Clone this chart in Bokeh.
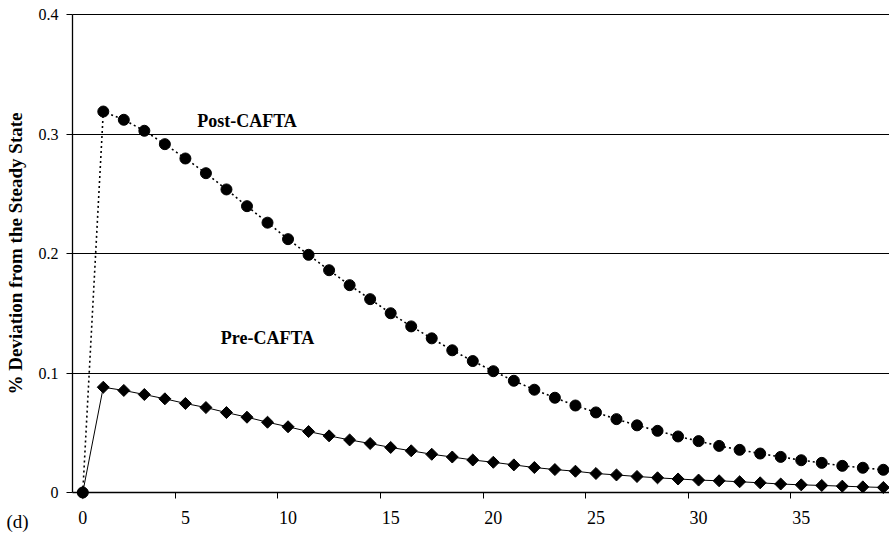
from bokeh.plotting import figure
from bokeh.models import FixedTicker, Label, Range1d, Grid
from bokeh.embed import file_html
from bokeh.resources import INLINE
import math

periods = list(range(40))
post_cafta = [0.0, 0.3188, 0.3119, 0.3027, 0.2915, 0.2795, 0.2672, 0.2536, 0.2396, 0.2258,
              0.2120, 0.1989, 0.1860, 0.1735, 0.1618, 0.1500, 0.1390, 0.1290, 0.1190, 0.1100,
              0.1015, 0.0935, 0.0860, 0.0793, 0.0728, 0.0670, 0.0614, 0.0562, 0.0516, 0.0469,
              0.0430, 0.0390, 0.0357, 0.0326, 0.0298, 0.0270, 0.0248, 0.0223, 0.0207, 0.0190]
pre_cafta = [0.0, 0.0881, 0.0854, 0.0820, 0.0784, 0.0745, 0.0711, 0.0669, 0.0630, 0.0588,
             0.0550, 0.0510, 0.0474, 0.0440, 0.0410, 0.0377, 0.0349, 0.0320, 0.0297, 0.0272,
             0.0253, 0.0231, 0.0209, 0.0192, 0.0178, 0.0159, 0.0147, 0.0134, 0.0123, 0.0113,
             0.0104, 0.0098, 0.0090, 0.0081, 0.0071, 0.0064, 0.0059, 0.0053, 0.0047, 0.0042]
x_tick_labels = [0, 5, 10, 15, 20, 25, 30, 35]
y_ticks = [0, 0.1, 0.2, 0.3, 0.4]
y_tick_labels = {0: "0", 0.1: "0.1", 0.2: "0.2", 0.3: "0.3", 0.4: "0.4"}
series_labels = ["Post-CAFTA", "Pre-CAFTA"]
panel_label = "(d)"

SERIF = "Liberation Serif"

# plot-area geometry (pixels) inside the 889x534 canvas
W, H = 889, 534
LEFT, TOP, BOTTOM = 72, 14, 492
X_LO, X_HI = -0.5, 39.3          # category axis span
Y_LO, Y_HI = 0.0, 0.4

x_ppu = (W - LEFT) / (X_HI - X_LO)
y_ppu = (BOTTOM - TOP) / (Y_HI - Y_LO)
x_range = Range1d(X_LO - LEFT / x_ppu, X_HI)
y_range = Range1d(Y_LO - (H - BOTTOM) / y_ppu, Y_HI + TOP / y_ppu)

p = figure(width=W, height=H, output_backend="svg", toolbar_location=None,
           x_range=x_range, y_range=y_range,
           min_border_left=0, min_border_right=0, min_border_top=0, min_border_bottom=0)
p.outline_line_color = None
p.background_fill_color = "white"
p.border_fill_color = "white"

# grid
p.xgrid.grid_line_color = None
p.ygrid.grid_line_color = None
hgrid = Grid(dimension=1, ticker=FixedTicker(ticks=y_ticks[1:]), grid_line_color="black",
             grid_line_width=1)
if "cross_bounds" in Grid.properties():
    hgrid.cross_bounds = (X_LO, X_HI)
    p.add_layout(hgrid)
else:
    p.segment(x0=[X_LO] * len(y_ticks[1:]), x1=[X_HI] * len(y_ticks[1:]),
              y0=y_ticks[1:], y1=y_ticks[1:], line_color="black", line_width=1)

# y axis
p.yaxis.fixed_location = X_LO
p.yaxis.bounds = (Y_LO, Y_HI)
p.yaxis.ticker = FixedTicker(ticks=y_ticks)
p.yaxis.major_label_overrides = y_tick_labels
p.yaxis.axis_line_color = "black"
p.yaxis.axis_line_width = 1.3
p.yaxis.major_tick_in = 0
p.yaxis.major_tick_out = 6
p.yaxis.minor_tick_line_color = None
p.yaxis.major_label_text_font = SERIF
p.yaxis.major_label_text_font_size = "16px"
p.yaxis.major_label_text_color = "black"
p.yaxis.major_label_standoff = 8
p.yaxis.axis_label = "% Deviation from the Steady State"
p.yaxis.axis_label_text_font = SERIF
p.yaxis.axis_label_text_font_style = "bold"
p.yaxis.axis_label_text_font_size = "19px"
p.yaxis.axis_label_text_color = "black"
p.yaxis.axis_label_standoff = 10

# x axis: labels at category centres, tick marks between categories
between = [t - 0.5 for t in x_tick_labels[1:]]
p.xaxis.fixed_location = Y_LO
p.xaxis.bounds = (X_LO, X_HI)
p.xaxis.ticker = FixedTicker(ticks=x_tick_labels, minor_ticks=between)
p.xaxis.axis_line_color = "black"
p.xaxis.axis_line_width = 1.3
p.xaxis.major_tick_in = 0
p.xaxis.major_tick_out = 0
p.xaxis.minor_tick_in = 0
p.xaxis.minor_tick_out = 6
p.xaxis.minor_tick_line_color = "black"
p.xaxis.major_label_text_font = SERIF
p.xaxis.major_label_text_font_size = "18px"
p.xaxis.major_label_text_color = "black"
p.xaxis.major_label_standoff = 12

# series
p.line(periods, post_cafta, line_color="black", line_width=1.6, line_dash="2 3")
p.scatter(periods, post_cafta, marker="circle", size=11, fill_color="black", line_color="black")
p.line(periods, pre_cafta, line_color="black", line_width=1)
p.scatter(periods, pre_cafta, marker="square", angle=math.pi / 4, size=8.5,
          fill_color="black", line_color="black")

p.add_layout(Label(x=8.0, y=0.3105, text=series_labels[0], text_align="center",
                   text_baseline="alphabetic", text_font=SERIF, text_font_style="bold",
                   text_font_size="18px", text_color="black"))
p.add_layout(Label(x=9.0, y=0.129, text=series_labels[1], text_align="center",
                   text_baseline="alphabetic", text_font=SERIF, text_font_style="bold",
                   text_font_size="18px", text_color="black"))
p.add_layout(Label(x=6, y=H - 521, x_units="screen", y_units="screen", text=panel_label,
                   text_font=SERIF, text_font_size="19px", text_color="black",
                   text_baseline="alphabetic"))

open("out.html", "w").write(file_html(p, INLINE))
